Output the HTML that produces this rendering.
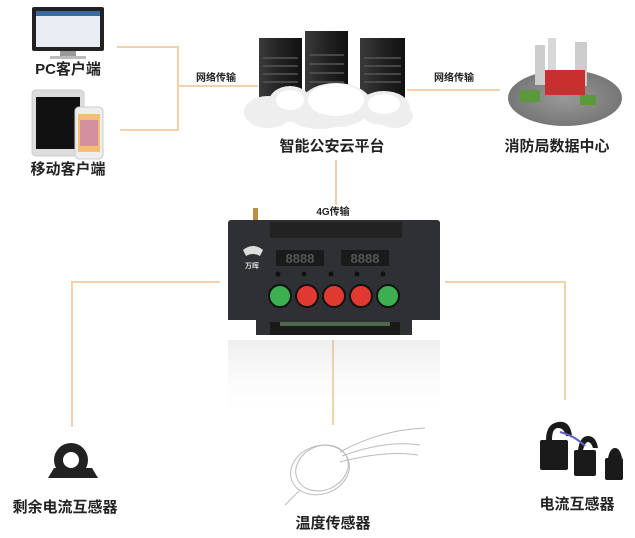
<!DOCTYPE html>
<html><head><meta charset="utf-8"><style>
html,body{margin:0;padding:0;background:#fff;}
svg{display:block;}
text{font-family:"Liberation Sans","Noto Sans CJK SC",sans-serif;fill:#222;font-weight:bold;}
</style></head><body>
<svg width="635" height="538" viewBox="0 0 635 538" xmlns="http://www.w3.org/2000/svg">
<defs>
<linearGradient id="srv" x1="0" x2="1"><stop offset="0" stop-color="#3a3a3a"/><stop offset=".5" stop-color="#222"/><stop offset="1" stop-color="#111"/></linearGradient>
<linearGradient id="refl" x1="0" y1="0" x2="0" y2="1"><stop offset="0" stop-color="#aaa" stop-opacity=".2"/><stop offset="1" stop-color="#fff" stop-opacity="0"/></linearGradient>
<radialGradient id="ground" cx=".5" cy=".5" r=".5"><stop offset="0" stop-color="#999"/><stop offset="1" stop-color="#777"/></radialGradient>
</defs>
<g stroke="#f0d2ad" stroke-width="2" fill="none">
<path d="M117 47H178V130H120M178 86H258"/>
<path d="M407 90H500"/>
<path d="M336 160V205"/>
<path d="M220 282H72V427"/>
<path d="M445 282H565V400"/>
<path d="M333 340V425"/>
</g>
<rect x="32" y="7" width="72" height="44" rx="2" fill="#222"/>
<rect x="36" y="11" width="64" height="36" fill="#e8eef4"/>
<rect x="36" y="11" width="64" height="5" fill="#3a6aa0"/>
<rect x="60" y="51" width="16" height="6" fill="#999"/>
<rect x="50" y="56" width="36" height="3" fill="#bbb"/>
<text x="68" y="74" font-size="15" text-anchor="middle">PC客户端</text>
<rect x="32" y="90" width="52" height="66" rx="4" fill="#ddd" stroke="#ccc"/>
<rect x="36" y="97" width="44" height="52" fill="#111"/>
<rect x="75" y="107" width="28" height="52" rx="4" fill="#eee" stroke="#ccc"/>
<rect x="78" y="114" width="22" height="38" fill="#f4c070"/>
<rect x="80" y="120" width="18" height="26" fill="#c070c0" opacity=".6"/>
<text x="68" y="174" font-size="15" text-anchor="middle">移动客户端</text>
<text x="216" y="81" font-size="10" text-anchor="middle">网络传输</text>
<text x="454" y="81" font-size="10" text-anchor="middle">网络传输</text>
<rect x="259" y="38" width="43" height="62" fill="url(#srv)"/>
<rect x="305" y="31" width="43" height="70" fill="url(#srv)"/>
<rect x="360" y="38" width="45" height="62" fill="url(#srv)"/>
<g stroke="#555" stroke-width="1.5">
<path d="M263 58H298M263 66H298M263 74H298M263 82H298M309 55H344M309 64H344M309 73H344M309 82H344M364 58H401M364 66H401M364 74H401M364 82H401"/>
</g>
<g fill="#eee">
<ellipse cx="268" cy="112" rx="24" ry="16"/><ellipse cx="290" cy="104" rx="22" ry="18"/>
<ellipse cx="336" cy="105" rx="36" ry="22"/><ellipse cx="320" cy="116" rx="30" ry="13"/>
<ellipse cx="384" cy="108" rx="26" ry="17"/><ellipse cx="395" cy="116" rx="18" ry="12"/>
</g>
<g fill="#fff"><ellipse cx="336" cy="100" rx="28" ry="16"/><ellipse cx="290" cy="100" rx="14" ry="10"/><ellipse cx="384" cy="104" rx="16" ry="10"/></g>
<text x="332" y="151" font-size="15" text-anchor="middle">智能公安云平台</text>
<ellipse cx="565" cy="98" rx="57" ry="28" fill="url(#ground)"/>
<rect x="535" y="45" width="10" height="40" fill="#ccc"/><rect x="548" y="38" width="8" height="48" fill="#d8d8d8"/><rect x="575" y="42" width="12" height="44" fill="#ccc"/>
<rect x="545" y="70" width="40" height="25" fill="#c83030"/>
<rect x="520" y="90" width="20" height="12" fill="#5a9a3a"/><rect x="580" y="95" width="16" height="10" fill="#5a9a3a"/>
<text x="557" y="151" font-size="15" text-anchor="middle">消防局数据中心</text>
<text x="333" y="215" font-size="10" text-anchor="middle">4G传输</text>
<rect x="253" y="208" width="5" height="14" fill="#b89040"/>
<rect x="228" y="220" width="212" height="115" rx="3" fill="#2e3034"/>
<rect x="270" y="222" width="132" height="16" fill="#222"/>
<rect x="228" y="320" width="28" height="15" fill="#fff"/><rect x="412" y="320" width="28" height="15" fill="#fff"/>
<rect x="270" y="322" width="130" height="13" fill="#1a1a1a"/>
<rect x="280" y="322" width="110" height="4" fill="#4a6a4a"/>
<rect x="276" y="250" width="48" height="16" fill="#1a1a1a"/><rect x="341" y="250" width="48" height="16" fill="#1a1a1a"/>
<text x="300" y="263" font-size="13" text-anchor="middle" style="fill:#555">8888</text>
<text x="365" y="263" font-size="13" text-anchor="middle" style="fill:#555">8888</text>
<text x="252" y="268" font-size="7" text-anchor="middle" style="fill:#ddd">万晖</text>
<path d="M243 250q10-8 20 0l-3 6q-7-4-14 0z" fill="#ddd"/>
<g fill="#111"><circle cx="278" cy="274" r="2.5"/><circle cx="304" cy="274" r="2.5"/><circle cx="331" cy="274" r="2.5"/><circle cx="357" cy="274" r="2.5"/><circle cx="383" cy="274" r="2.5"/></g>
<circle cx="280" cy="296" r="11" fill="#3cb050" stroke="#111" stroke-width="2"/>
<circle cx="307" cy="296" r="11" fill="#e03a30" stroke="#111" stroke-width="2"/>
<circle cx="334" cy="296" r="11" fill="#e03a30" stroke="#111" stroke-width="2"/>
<circle cx="361" cy="296" r="11" fill="#e03a30" stroke="#111" stroke-width="2"/>
<circle cx="388" cy="296" r="11" fill="#3cb050" stroke="#111" stroke-width="2"/>
<rect x="228" y="340" width="212" height="80" fill="url(#refl)"/>
<path d="M48 478h50l-6-10h-38z" fill="#222"/>
<circle cx="71" cy="460" r="17" fill="#222"/><circle cx="71" cy="460" r="8" fill="#fff"/>
<text x="65" y="512" font-size="15" text-anchor="middle">剩余电流互感器</text>
<g fill="none" stroke="#bbb" stroke-width="1">
<ellipse cx="320" cy="470" rx="30" ry="24" transform="rotate(-20 320 470)"/>
<ellipse cx="322" cy="468" rx="27" ry="22" transform="rotate(-25 322 468)"/>
<path d="M340 452Q380 430 425 428M342 456Q385 440 420 445M340 462Q385 450 418 455M300 490Q290 500 285 505"/>
</g>
<text x="333" y="528" font-size="15" text-anchor="middle">温度传感器</text>
<g fill="#1a1a1a">
<rect x="540" y="440" width="28" height="30" rx="2"/><rect x="574" y="450" width="22" height="26" rx="2"/><rect x="605" y="458" width="18" height="22" rx="2"/>
<path d="M546 440q0-16 12-18t14 14h-6q-2-8-8-8t-6 12z"/><path d="M578 450q2-14 10-14t10 12h-5q-2-6-5-6t-5 8z"/><path d="M608 458q2-10 7-10t7 10h-4z"/>
</g>
<path d="M560 432q15 4 25 14" stroke="#6060c0" stroke-width="2" fill="none"/>
<text x="577" y="509" font-size="15" text-anchor="middle">电流互感器</text>
</svg>
</body></html>
